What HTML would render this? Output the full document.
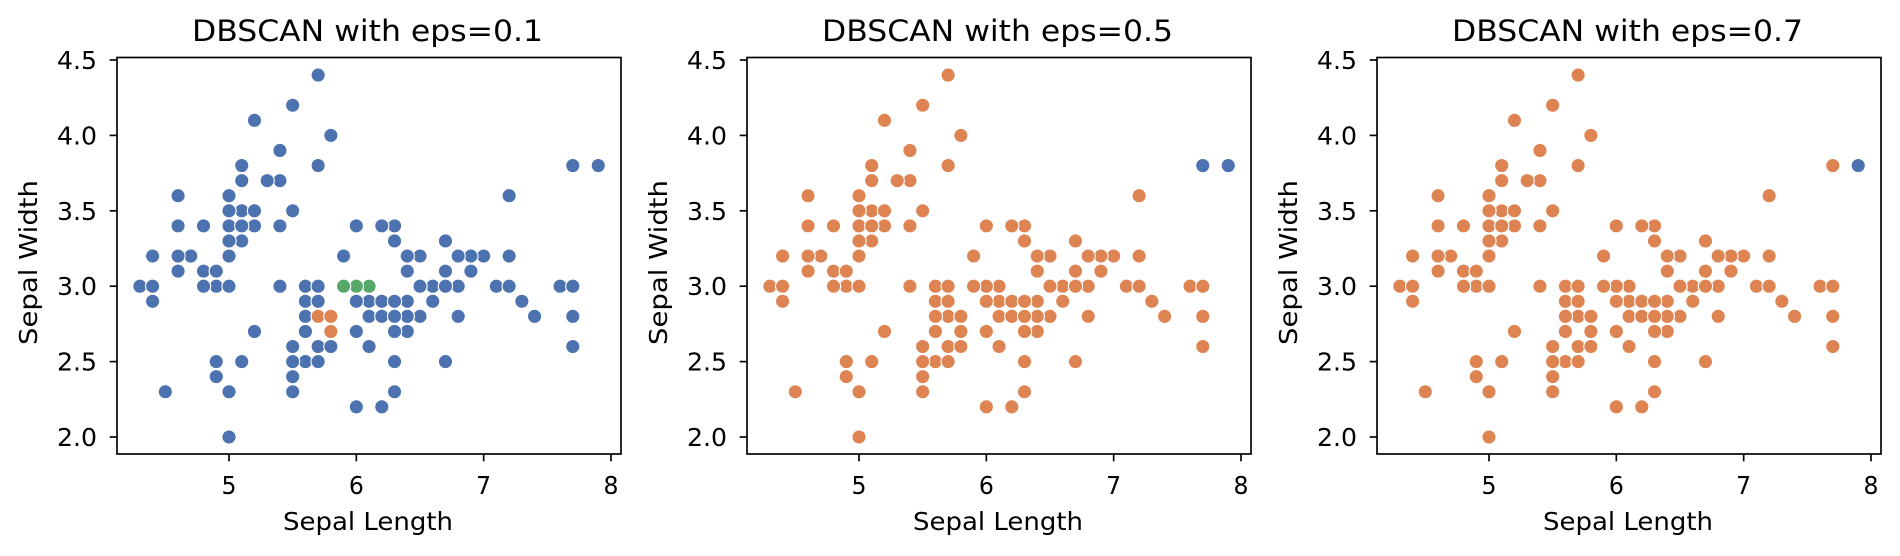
<!DOCTYPE html>
<html><head><meta charset="utf-8">
<style>
html,body{margin:0;padding:0;background:#fff;}
svg{display:block;}
text{font-family:"DejaVu Sans","Liberation Sans",sans-serif;fill:#000;}
</style></head>
<body>
<svg id="s" width="1900" height="556" viewBox="0 0 1900 556" xmlns="http://www.w3.org/2000/svg"></svg>
<script>
const d=[[5.1,3.5],[4.9,3.0],[4.7,3.2],[4.6,3.1],[5.0,3.6],[5.4,3.9],[4.6,3.4],[5.0,3.4],[4.4,2.9],[4.9,3.1],[5.4,3.7],[4.8,3.4],[4.8,3.0],[4.3,3.0],[5.8,4.0],[5.7,4.4],[5.4,3.9],[5.1,3.5],[5.7,3.8],[5.1,3.8],[5.4,3.4],[5.1,3.7],[4.6,3.6],[5.1,3.3],[4.8,3.4],[5.0,3.0],[5.0,3.4],[5.2,3.5],[5.2,3.4],[4.7,3.2],[4.8,3.1],[5.4,3.4],[5.2,4.1],[5.5,4.2],[4.9,3.1],[5.0,3.2],[5.5,3.5],[4.9,3.1],[4.4,3.0],[5.1,3.4],[5.0,3.5],[4.5,2.3],[4.4,3.2],[5.0,3.5],[5.1,3.8],[4.8,3.0],[5.1,3.8],[4.6,3.2],[5.3,3.7],[5.0,3.3],
[7.0,3.2],[6.4,3.2],[6.9,3.1],[5.5,2.3],[6.5,2.8],[5.7,2.8],[6.3,3.3],[4.9,2.4],[6.6,2.9],[5.2,2.7],[5.0,2.0],[5.9,3.0],[6.0,2.2],[6.1,2.9],[5.6,2.9],[6.7,3.1],[5.6,3.0],[5.8,2.7],[6.2,2.2],[5.6,2.5],[5.9,3.2],[6.1,2.8],[6.3,2.5],[6.1,2.8],[6.4,2.9],[6.6,3.0],[6.8,2.8],[6.7,3.0],[6.0,2.9],[5.7,2.6],[5.5,2.4],[5.5,2.4],[5.8,2.7],[6.0,2.7],[5.4,3.0],[6.0,3.4],[6.7,3.1],[6.3,2.3],[5.6,3.0],[5.5,2.5],[5.5,2.6],[6.1,3.0],[5.8,2.6],[5.0,2.3],[5.6,2.7],[5.7,3.0],[5.7,2.9],[6.2,2.9],[5.1,2.5],[5.7,2.8],
[6.3,3.3],[5.8,2.7],[7.1,3.0],[6.3,2.9],[6.5,3.0],[7.6,3.0],[4.9,2.5],[7.3,2.9],[6.7,2.5],[7.2,3.6],[6.5,3.2],[6.4,2.7],[6.8,3.0],[5.7,2.5],[5.8,2.8],[6.4,3.2],[6.5,3.0],[7.7,3.8],[7.7,2.6],[6.0,2.2],[6.9,3.2],[5.6,2.8],[7.7,2.8],[6.3,2.7],[6.7,3.3],[7.2,3.2],[6.2,2.8],[6.1,3.0],[6.4,2.8],[7.2,3.0],[7.4,2.8],[7.9,3.8],[6.4,2.8],[6.3,2.8],[6.1,2.6],[7.7,3.0],[6.3,3.4],[6.4,3.1],[6.0,3.0],[6.9,3.1],[6.7,3.1],[6.9,3.1],[5.8,2.7],[6.8,3.2],[6.7,3.3],[6.7,3.0],[6.3,2.5],[6.5,3.0],[6.2,3.4],[5.9,3.0]];
const B="#4c72b0",O="#dd8452",G="#55a868";
function eq(a,b){return Math.abs(a-b)<1e-6;}
function col(p,x,y){
 if(p===0){
  if((eq(x,5.7)&&eq(y,2.8))||(eq(x,5.8)&&eq(y,2.8))||(eq(x,5.8)&&eq(y,2.7)))return O;
  if(eq(y,3.0)&&(eq(x,5.9)||eq(x,6.0)||eq(x,6.1)))return G;
  return B;}
 if(p===1){ if(eq(y,3.8)&&(eq(x,7.7)||eq(x,7.9)))return B; return O;}
 if(eq(y,3.8)&&eq(x,7.9))return B; return O;
}
const A='lengthAdjust="spacingAndGlyphs"';
let h="";
const titles=["0.1","0.5","0.7"];
for(let p=0;p<3;p++){
 const o=p*630, L=117+o, R=621+o, T=57.5, Bt=454;
 const X=x=>229+o+(x-5)*127.33, Y=y=>437-(y-2)*150.8;
 let pts=d.map(q=>({x:q[0],y:q[1],c:col(p,q[0],q[1])}));
 let base=pts.filter(q=>q.c===(p===0?B:O)), oth=pts.filter(q=>q.c!==(p===0?B:O));
 for(const q of base.concat(oth)) h+=`<circle cx="${X(q.x).toFixed(2)}" cy="${Y(q.y).toFixed(2)}" r="7.1" fill="${q.c}" stroke="#fff" stroke-width="1.1"/>`;
 h+=`<rect x="${L}" y="${T}" width="${R-L}" height="${Bt-T}" fill="none" stroke="#000" stroke-width="1.67"/>`;
 for(let v=5;v<=8;v++){const xx=X(v);h+=`<line x1="${xx}" y1="${Bt}" x2="${xx}" y2="${Bt+7.3}" stroke="#000" stroke-width="1.67"/><text x="${xx-7.5}" y="494" font-size="25" textLength="15" ${A}>${v}</text>`;}
 for(let v=2;v<=4.5;v+=0.5){const yy=Y(v);h+=`<line x1="${L}" y1="${yy}" x2="${L-7.3}" y2="${yy}" stroke="#000" stroke-width="1.67"/><text x="${L-60}" y="${yy+9}" font-size="25" textLength="40" ${A}>${v.toFixed(1)}</text>`;}
 h+=`<text x="${283+o}" y="530" font-size="25" textLength="170" ${A}>Sepal Length</text>`;
 h+=`<text transform="translate(${37+o},345) rotate(-90)" font-size="25" textLength="165" ${A}>Sepal Width</text>`;
 h+=`<text x="${192+o}" y="41" font-size="29" textLength="351" ${A}>DBSCAN with eps=${titles[p]}</text>`;
}
document.getElementById("s").innerHTML=h;
</script>
</body></html>
